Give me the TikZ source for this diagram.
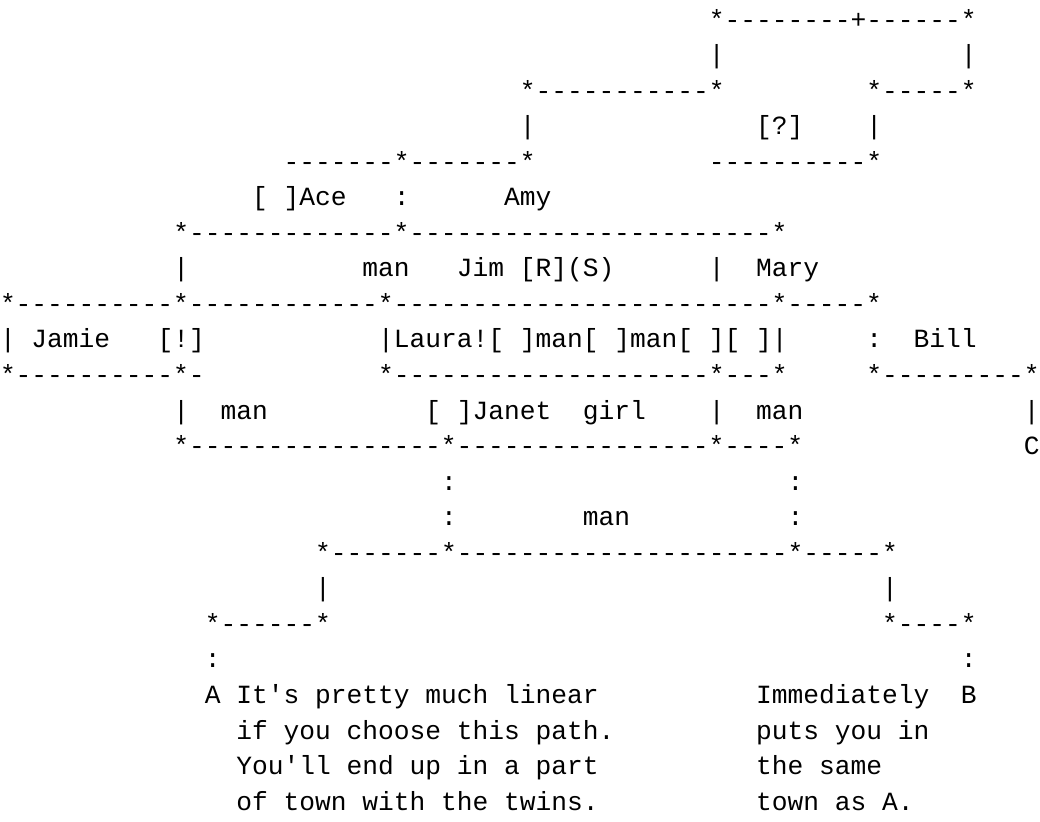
\documentclass[tikz,border=0pt]{standalone}
\usepackage{fontspec}
\setmonofont{Liberation Mono}
\newcommand\pw{15.75}
\newcounter{tk}
\newcommand\T[3]{\stepcounter{tk}\node[txt] (t\arabic{tk}) at ({#1*\pw},{28+35.55*#2}) {#3};}
\begin{document}
\begin{tikzpicture}[x=0.5pt,y=-0.5pt,
  txt/.style={anchor=base west,inner sep=0pt,outer sep=0pt,font=\ttfamily\fontsize{13.125pt}{16pt}\selectfont}]
\useasboundingbox (0,0) rectangle (1040,821);
% row 0-4
\T{45}{0}{*--------+------*}
\T{45}{1}{|}\T{61}{1}{|}
\T{33}{2}{*-----------*}\T{55}{2}{*-----*}
\T{33}{3}{|}\T{48}{3}{[?]}\T{55}{3}{|}
\T{18}{4}{-------*-------*}\T{45}{4}{----------*}
% rows 5-8
\T{16}{5}{[ ]Ace}\T{25}{5}{:}\T{32}{5}{Amy}
\T{11}{6}{*-------------*-----------------------*}
\T{11}{7}{|}\T{23}{7}{man}\T{29}{7}{Jim}\T{33}{7}{[R](S)}\T{45}{7}{|}\T{48}{7}{Mary}
\T{0}{8}{*----------*------------*------------------------*-----*}
% rows 9-12
\T{0}{9}{|}\T{2}{9}{Jamie}\T{10}{9}{[!]}\T{24}{9}{|Laura![ ]man[ ]man[ ][ ]|}\T{55}{9}{:}\T{58}{9}{Bill}
\T{0}{10}{*----------*-}\T{24}{10}{*--------------------*---*}\T{55}{10}{*---------*}
\T{11}{11}{|}\T{14}{11}{man}\T{27}{11}{[ ]Janet}\T{37}{11}{girl}\T{45}{11}{|}\T{48}{11}{man}\T{65}{11}{|}
\T{11}{12}{*----------------*----------------*----*}\T{65}{12}{C}
% rows 13-18
\T{28}{13}{:}\T{50}{13}{:}
\T{28}{14}{:}\T{37}{14}{man}\T{50}{14}{:}
\T{20}{15}{*-------*---------------------*-----*}
\T{20}{16}{|}\T{56}{16}{|}
\T{13}{17}{*------*}\T{56}{17}{*----*}
\T{13}{18}{:}\T{61}{18}{:}
% rows 19-22
\T{13}{19}{A It's pretty much linear}\T{48}{19}{Immediately}\T{61}{19}{B}
\T{15}{20}{if you choose this path.}\T{48}{20}{puts you in}
\T{15}{21}{You'll end up in a part}\T{48}{21}{the same}
\T{15}{22}{of town with the twins.}\T{48}{22}{town as A.}
\end{tikzpicture}
\end{document}
